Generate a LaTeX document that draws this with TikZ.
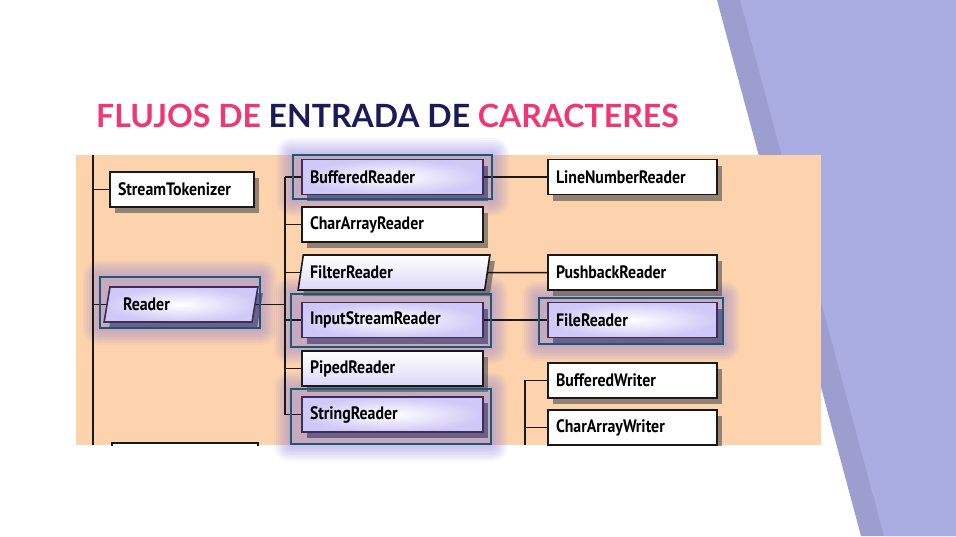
\documentclass[tikz,border=0pt]{standalone}
\usepackage{fontspec}
\setmainfont{Lato}
\newfontfamily\boxfont[FakeStretch=0.88]{PT Sans}
\usetikzlibrary{shapes.geometric,shadows}

\definecolor{peach}{RGB}{253,211,174}
\definecolor{lilac}{RGB}{170,173,226}
\definecolor{lilacdark}{RGB}{155,158,206}
\definecolor{hotpink}{RGB}{240,55,115}
\definecolor{navy}{RGB}{28,27,90}
\definecolor{frameblue}{RGB}{30,88,120}
\definecolor{glowviolet}{RGB}{125,110,220}
\definecolor{boxlav}{RGB}{200,190,245}
\definecolor{edgepurple}{RGB}{60,45,95}

\pgfdeclarelayer{back}
\pgfdeclarelayer{glow}
\pgfsetlayers{back,glow,main}

\tikzstyle{cls} = [draw=black!90, line width=1.6pt, fill=white, minimum height=35pt, inner xsep=8pt, align=left,
  font=\boxfont\bfseries\fontsize{18}{18}\selectfont,
  drop shadow={shadow xshift=5pt,shadow yshift=-6pt,fill=black!70,opacity=.6}]
\tikzstyle{midcls} = [cls, text width=165pt]
\tikzstyle{rightcls} = [cls, text width=153pt]
\tikzstyle{abstractcls} = [cls, trapezium, trapezium left angle=76, trapezium right angle=104, trapezium stretches=true, inner xsep=2pt]
\tikzstyle{lit} = [draw=edgepurple, inner color=white, outer color=boxlav!85,
  drop shadow={shadow xshift=5pt,shadow yshift=-6pt,fill=glowviolet!70!black,opacity=.45}]
\tikzstyle{frame} = [draw=frameblue, line width=2pt, inner sep=0pt]
\tikzstyle{link} = [line width=1.5pt, black!90]

\begin{document}
\begin{tikzpicture}[x=1pt,y=-1pt]
	\useasboundingbox (0,0) rectangle (956,536);
	\begin{pgfonlayer}{back}
	\fill[white] (0,0) rectangle (956,536);
	\fill[lilacdark] (717,0) -- (956,0) -- (956,536) -- (861,536) -- cycle;
	\fill[lilac] (740,0) -- (956,0) -- (956,536) -- (884,536) -- cycle;
	\fill[peach] (76,155) rectangle (821,445);
	\end{pgfonlayer}

	\node[anchor=west, inner sep=0pt, font=\fontsize{32}{32}\selectfont\bfseries] (title) at (96,116)
	  {\textcolor{hotpink}{FLUJOS DE} \textcolor{navy}{ENTRADA DE} \textcolor{hotpink}{CARACTERES}};

	\begin{scope}
	\clip (76,155) rectangle (821,445);
	% left column
	\node[cls, text width=128pt] (tok) at (182,189.5) {StreamTokenizer};
	\node[abstractcls, lit, minimum width=154pt, text width=116pt] (reader) at (181,304.5) {Reader};
	\node[cls, text width=130pt] (lowbox) at (185,460.5) {};
	% readers
	\node[midcls, lit] (buffered) at (392.5,177) {BufferedReader};
	\node[midcls] (chararray) at (392.5,224.5) {CharArrayReader};
	\node[abstractcls, minimum width=192pt, text width=168pt, top color=white, bottom color=boxlav!60] (filter) at (394,272.5) {FilterReader};
	\node[midcls, lit] (input) at (392.5,320) {InputStreamReader};
	\node[midcls, top color=white, bottom color=boxlav!60] (piped) at (392.5,368.5) {PipedReader};
	\node[midcls, lit] (string) at (392.5,414.5) {StringReader};
	% subclasses
	\node[rightcls] (linenum) at (632.5,177) {LineNumberReader};
	\node[rightcls] (pushback) at (632.5,272.5) {PushbackReader};
	\node[rightcls, lit] (file) at (632.5,320) {FileReader};
	\node[rightcls] (bufwriter) at (632.5,380.5) {BufferedWriter};
	\node[rightcls] (charwriter) at (632.5,427.5) {CharArrayWriter};

	\coordinate (leftTop) at (93,155);
	\coordinate (leftBot) at (93,445);
	\coordinate (midTrunk) at (285,177);
	\coordinate (writerTrunk) at (525,445);
	\draw[link] (leftTop) -- (leftBot);
	\draw[link] (leftTop) |- (tok.west);
	\draw[link] (leftTop) |- (reader.west);
	\draw[link] (reader.east) -- (reader.east -| midTrunk);
	\draw[link] (midTrunk) |- (string.west);
	\foreach \n in {buffered,chararray,filter,input,piped}
		\draw[link] (\n.west -| midTrunk) -- (\n.west);
	\draw[link] (buffered.east) -- (linenum.west);
	\draw[link] (filter.east) -- (pushback.west);
	\draw[link] (input.east) -- (file.west);
	\draw[link] (writerTrunk) |- (bufwriter.west);
	\draw[link] (writerTrunk) |- (charwriter.west);
	\end{scope}

	% highlight frames
	\node[frame, minimum width=199pt, minimum height=44pt] (bufferedFrame) at (392.5,177) {};
	\node[frame, minimum width=160pt, minimum height=51pt] (readerFrame) at (180,302.5) {};
	\node[frame, minimum width=200pt, minimum height=53pt] (inputFrame) at (391,320.5) {};
	\node[frame, minimum width=200pt, minimum height=55pt] (stringFrame) at (391,416.5) {};
	\node[frame, minimum width=184pt, minimum height=46pt] (fileFrame) at (631,321) {};

	\begin{pgfonlayer}{glow}
	\foreach \f in {bufferedFrame,readerFrame,inputFrame,stringFrame,fileFrame}
		\foreach \g in {16,14,...,2}
			\fill[glowviolet, opacity=.06, rounded corners=\g pt]
			  ([shift={(-\g pt,\g pt)}]\f.north west) rectangle ([shift={(\g pt,-\g pt)}]\f.south east);
	\end{pgfonlayer}
\end{tikzpicture}
\end{document}
